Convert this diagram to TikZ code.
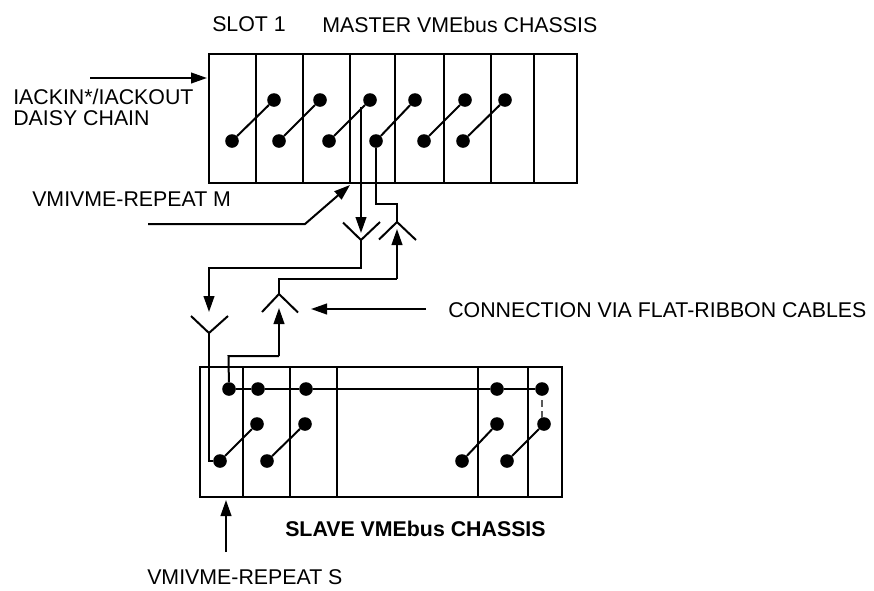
\documentclass[tikz,border=0pt]{standalone}
\usepackage{fontspec}
\setmainfont{Liberation Sans}
\usetikzlibrary{arrows.meta}
\tikzset{
  pin/.style={circle,fill=black,inner sep=0pt,minimum size=10.2pt},
  wire/.style={line width=1.5pt},
  flow/.style={line width=1.5pt,-{Triangle[length=12pt,width=8pt]}},
  label/.style={anchor=west,inner sep=0pt,font=\fontsize{16pt}{18pt}\selectfont},
}
\begin{document}
\begin{tikzpicture}[x=0.75pt,y=-0.75pt]
    \useasboundingbox (0,0) rectangle (874,590);
    \fill[white] (0,0) rectangle (874,590);

    % master chassis
    \draw[wire] (209,54) rectangle (577,183);
    \foreach \x in {256,303,350,395,444,491,534}
        \draw[wire] (\x,54) -- (\x,183);
    \foreach \n/\lx/\ux in {1/232/274,2/279/320,3/329/370,4/376/415,5/424/465,6/463/505} {
        \node[pin] (ml\n) at (\lx,141) {};
        \node[pin] (mu\n) at (\ux,100) {};
        \draw[wire] (ml\n) -- (mu\n);
    }

    % slave chassis
    \draw[wire] (200,367) rectangle (562,497);
    \foreach \x in {243,290,337,478,528}
        \draw[wire] (\x,367) -- (\x,497);
    \foreach \n/\x in {1/229,2/258,3/306,4/497,5/542}
        \node[pin] (st\n) at (\x,389) {};
    \draw[wire] (st1) -- (st2) -- (st3) -- (st4) -- (st5);
    \foreach \n/\lx/\ux in {1/220/257,2/267/305,3/462/497,4/507/544} {
        \node[pin] (sl\n) at (\lx,461) {};
        \node[pin] (su\n) at (\ux,424) {};
        \draw[wire] (sl\n) -- (su\n);
    }
    \draw[line width=1.5pt,gray!70!black,dash pattern=on 5.5pt off 3pt,shorten <=3pt] (st5) -- (542,418);

    % connectors
    \coordinate (fork1) at (361,240);
    \coordinate (fork2) at (397,222);
    \coordinate (fork3) at (279,294);
    \coordinate (fork4) at (209,333);
    \draw[wire] (343,222.5) -- (fork1) -- (380,222);
    \draw[wire] (379,239.5) -- (fork2) -- (416,240);
    \draw[wire] (262,312) -- (fork3) -- (298,312.5);
    \draw[wire] (191,316) -- (fork4) -- (228,316);

    \draw[flow] (361,107) -- (361,233);
    \draw[wire] (ml4) -- (376,204) -- (397,204) -- (fork2);
    \draw[flow] (397,279) -- (397,229);
    \draw[wire] (fork3) -- (279,279) -- (397,279);
    \draw[flow] (279,356) -- (279,308);
    \draw[wire] (st1) -- (228.5,356) -- (279,356);
    \draw[flow] (fork1) -- (361,268) -- (209,268) -- (209,312);
    \draw[wire] (fork4) -- (209,461) -- (sl1);

    % labels
    \node[label] (slot) at (212,24.5) {SLOT 1};
    \node[label] (master) at (322,24.5) {MASTER VMEbus CHASSIS};
    \node[label] (daisy1) at (13,97) {IACKIN*/IACKOUT};
    \node[label] (daisy2) at (13,118) {DAISY CHAIN};
    \node[label] (rptm) at (32,199) {VMIVME-REPEAT M};
    \node[label] (ribbon) at (448,310) {CONNECTION VIA FLAT-RIBBON CABLES};
    \node[label,font=\fontsize{16pt}{18pt}\selectfont\bfseries] (slave) at (285,529) {SLAVE VMEbus CHASSIS};
    \node[label] (rpts) at (147,577) {VMIVME-REPEAT S};

    \draw[flow] (90,78) -- (207,78);
    \draw[flow] (148,224) -- (305,224) -- (350,185);
    \draw[flow] (426,309) -- (311,309);
    \draw[flow] (226,552) -- (226,500);
\end{tikzpicture}
\end{document}
